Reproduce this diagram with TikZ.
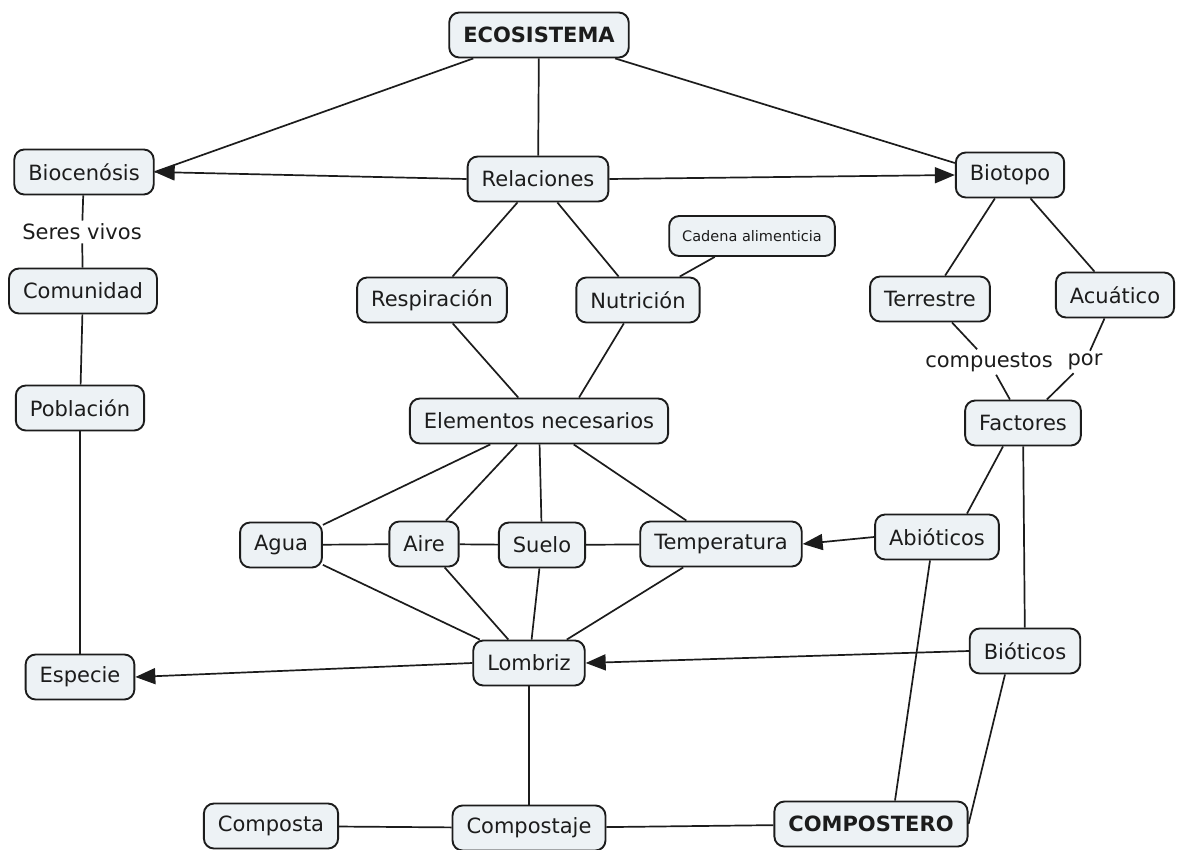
\documentclass[tikz,border=0pt]{standalone}
\usepackage{fontspec}
\setmainfont{DejaVu Sans}
\usetikzlibrary{arrows.meta,positioning}
\definecolor{boxfill}{HTML}{EDF2F5}
\definecolor{ink}{HTML}{1C1C1C}
\begin{document}
\begin{tikzpicture}
[x=1pt,y=-1pt,
%
concept/.style={shape=rectangle,rounded corners=10pt,draw=ink,line width=1.9pt,fill=boxfill,
   text=ink,minimum height=45pt,inner xsep=14pt,font=\fontsize{21}{25}\selectfont},
bigconcept/.style={concept,font=\fontsize{21}{25}\selectfont\bfseries},
smallconcept/.style={concept,minimum height=40pt,inner xsep=13pt,font=\fontsize{14.5}{17}\selectfont},
phrase/.style={inner sep=3pt,text=ink,font=\fontsize{21}{25}\selectfont},
%
link/.style={draw=ink,line width=1.7pt},
arrlink/.style={link,-{Triangle[length=20pt,width=16pt]}}]
%
\useasboundingbox (0,0) rectangle (1177,850);
%
% top
\node (eco) [bigconcept] at (539,35) {ECOSISTEMA};
\node (bioc) [concept] at (84,172) {Biocenósis};
\node (rel) [concept] at (538,179) {Relaciones};
\node (biot) [concept] at (1010,175) {Biotopo};
%%
% left column
\node (seres) [phrase] at (82,232) {Seres vivos};
\node (com) [concept] at (83,291) {Comunidad};
\node (pob) [concept] at (80,408) {Población};
\node (esp) [concept] at (80,677) {Especie};
%%
% middle
\node (resp) [concept] at (432,300) {Respiración};
\node (nut) [concept] at (638,300) {Nutrición};
\node (cad) [smallconcept] at (752,236) {Cadena alimenticia};
\node (elem) [concept] at (539,421) {Elementos necesarios};
\node (agua) [concept] at (281,545) {Agua};
\node (aire) [concept] at (424,544) {Aire};
\node (suelo) [concept] at (542,545) {Suelo};
\node (temp) [concept] at (721,544) {Temperatura};
\node (lomb) [concept] at (529,663) {Lombriz};
%%
% right
\node (terr) [concept] at (930,299) {Terrestre};
\node (acu) [concept] at (1115,295) {Acuático};
\node (compu) [phrase] at (989,362) {compuestos};
\node (por) [phrase] at (1085,362) {por};
\node (fac) [concept] at (1023,423) {Factores};
\node (abio) [concept] at (937,537) {Abióticos};
\node (bioti) [concept] at (1025,651) {Bióticos};
%%
% bottom
\node (compa) [concept] at (271,826) {Composta};
\node (compj) [concept] at (529,828) {Compostaje};
\node (compo) [bigconcept] at (871,824) {COMPOSTERO};
%%
% links from the top
\draw[link] (eco) -- (bioc.east);
\draw[link] (eco) -- (rel);
\draw[link] (eco) -- ([yshift=12pt]biot.west);
\draw[arrlink] (rel.west) -- (bioc.east);
\draw[arrlink] (rel.east) -- (biot.west);
%%
% left column
\draw[link] (bioc) -- (seres);
\draw[link] (seres) -- (com);
\draw[link] (com) -- (pob);
\draw[link] (pob) -- (esp);
%%
% middle
\draw[link] (rel) -- (resp);
\draw[link] (rel) -- (nut);
\draw[link] (nut) -- (cad);
\draw[link] (resp) -- (elem);
\draw[link] (nut) -- ([xshift=40pt]elem.north);
\draw[link] (elem) -- (agua);
\draw[link] (elem) -- (aire);
\draw[link] (elem) -- (suelo);
\draw[link] (elem) -- (temp);
\draw[link] (agua) -- (aire);
\draw[link] (aire) -- (suelo);
\draw[link] (suelo) -- (temp);
\draw[link] (agua) -- (lomb);
\draw[link] (aire) -- (lomb);
\draw[link] (suelo) -- (lomb);
\draw[link] (temp) -- (lomb);
\draw[arrlink] (lomb.west) -- (esp.east);
\draw[link] (lomb) -- (compj);
%%
% right
\draw[link] (biot) -- (terr);
\draw[link] (biot) -- (acu);
\draw[link] (terr) -- (compu);
\draw[link] (acu) -- (por);
\draw[link] (compu) -- (fac);
\draw[link] (por) -- (fac);
\draw[link] ([xshift=-20pt]fac.south) -- ([xshift=30pt]abio.north);
\draw[link] (fac) -- (bioti);
\draw[arrlink] (abio.west) -- (temp.east);
\draw[arrlink] (bioti.west) -- (lomb.east);
\draw[link] ([xshift=-7pt]abio.south) -- ([xshift=24pt]compo.north);
\draw[link] ([xshift=-20pt]bioti.south) -- (compo.east);
%%
% bottom
\draw[link] (compa) -- (compj);
\draw[link] (compj) -- (compo);
\end{tikzpicture}
\end{document}
